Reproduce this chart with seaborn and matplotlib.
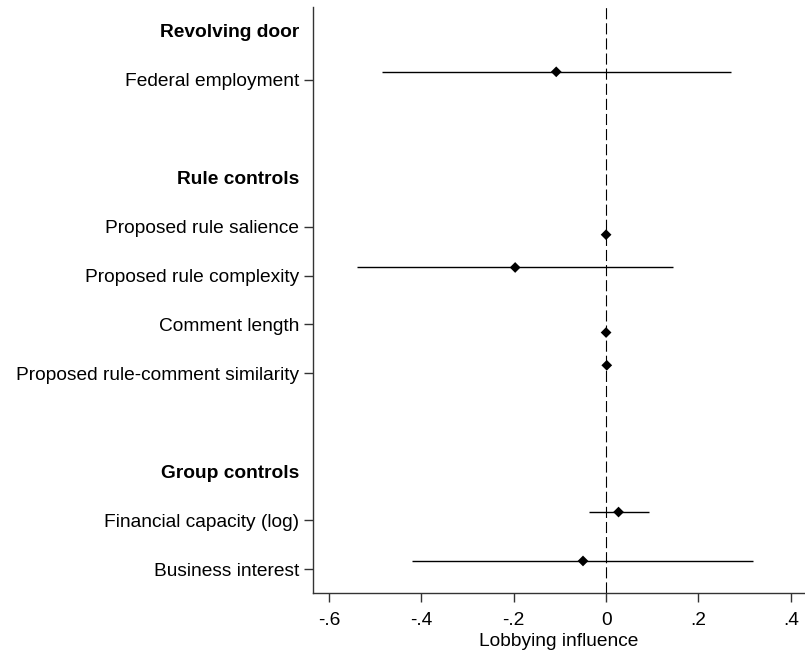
import numpy as np
import pandas as pd
import seaborn as sns
import matplotlib.pyplot as plt

# --- datos del coefplot ---
GROUPS = ["Revolving door", "Rule controls", "Group controls"]
VARIABLES = ["Federal employment",
             "Proposed rule salience", "Proposed rule complexity",
             "Comment length", "Proposed rule-comment similarity",
             "Financial capacity (log)", "Business interest"]
VAR_GROUP = ["Revolving door",
             "Rule controls", "Rule controls", "Rule controls", "Rule controls",
             "Group controls", "Group controls"]
COEF = [-0.108, 0.000, -0.197, 0.000, 0.0015, 0.027, -0.050]
CI_LOW = [-0.485, -0.002, -0.539, -0.002, -0.0005, -0.038, -0.420]
CI_HIGH = [0.270, 0.002, 0.144, 0.002, 0.0035, 0.092, 0.319]
MODEL = ["a", "b", "a", "b", "a", "a", "a"]
XTICKS = [-0.6, -0.4, -0.2, 0.0, 0.2, 0.4]
XTICK_LABELS = ["-.6", "-.4", "-.2", "0", ".2", ".4"]

sns.set_style("ticks")
plt.rcParams["font.family"] = ["Liberation Sans", "DejaVu Sans"]

# filas: cabecera, variables, fila vacía entre grupos
rows, row_labels, is_header = [], [], []
var_row = {}
r = 0
for gi, g in enumerate(GROUPS):
    if gi > 0:
        r += 1
    rows.append(r); row_labels.append(g); is_header.append(True)
    r += 1
    for v, vg in zip(VARIABLES, VAR_GROUP):
        if vg == g:
            var_row[v] = r
            rows.append(r); row_labels.append(v); is_header.append(False)
            r += 1
n_rows = r

offset = {"a": -0.165, "b": 0.165}
df = pd.DataFrame({"variable": VARIABLES, "coef": COEF,
                   "lo": CI_LOW, "hi": CI_HIGH, "model": MODEL})
df["y"] = df["variable"].map(var_row) + df["model"].map(offset)

fig = plt.figure(figsize=(8.05, 6.51), dpi=100)
ax = fig.add_axes([313 / 805, 1 - 593 / 651, 492 / 805, 586 / 651])

ax.axvline(0, color="black", lw=0.8, ls=(0, (10, 3.6)), zorder=1)
ax.hlines(df["y"], df["lo"], df["hi"], color="black", lw=1.0, zorder=2)
sns.scatterplot(data=df, x="coef", y="y", marker="D", s=30, color="black",
                edgecolor="none", ax=ax, zorder=3, legend=False)

ax.set_xlim(-0.635, 0.431)
ax.set_ylim(n_rows - 1 + 0.49, -0.49)
ax.set_xticks(XTICKS, XTICK_LABELS)
ax.set_yticks(rows, row_labels)
for tick, hdr in zip(ax.yaxis.get_major_ticks(), is_header):
    if hdr:
        tick.tick1line.set_visible(False)
        tick.label1.set_fontweight("bold")

ax.set_xlabel("Lobbying influence", fontsize=13.8, labelpad=3, color="black")
ax.set_ylabel("")
ax.tick_params(axis="both", labelsize=13.8, length=6.5, width=1.0,
               color="#333333", labelcolor="black")
ax.tick_params(axis="y", pad=3.6)
ax.tick_params(axis="x", pad=7)
for side in ["left", "bottom"]:
    ax.spines[side].set_color("#333333")
    ax.spines[side].set_linewidth(1.0)
sns.despine(ax=ax)

fig.savefig("out.png", dpi=100)
